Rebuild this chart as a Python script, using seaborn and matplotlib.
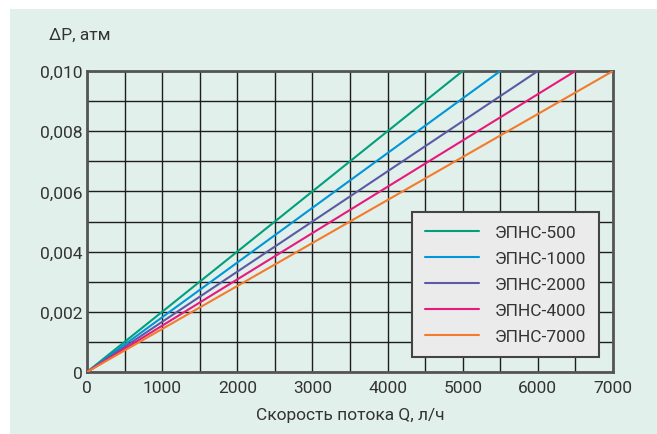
import pandas as pd
import matplotlib.pyplot as plt
import matplotlib.patches as mpatches
from matplotlib.ticker import MultipleLocator, FuncFormatter
import seaborn as sns

# Data: each line is straight from the origin to its end point
models = ['ЭПНС-500', 'ЭПНС-1000', 'ЭПНС-2000', 'ЭПНС-4000', 'ЭПНС-7000']
q_start = [0, 0, 0, 0, 0]
q_end = [5000, 5500, 6000, 6500, 7000]
dp_start = [0, 0, 0, 0, 0]
dp_end = [0.010, 0.010, 0.010, 0.010, 0.010]
colors = ['#00a07c', '#0096d8', '#5a5aa6', '#e8197c', '#f47a2c']

rows = []
for m, q0, q1, p0, p1 in zip(models, q_start, q_end, dp_start, dp_end):
    rows.append({'model': m, 'Q': q0, 'dP': p0})
    rows.append({'model': m, 'Q': q1, 'dP': p1})
df = pd.DataFrame(rows)

sns.set_style('white')
plt.rcParams['font.family'] = ['Roboto', 'DejaVu Sans']
text_color = '#333333'
bg = '#e2f0eb'
fs = 12.5

fig = plt.figure(figsize=(6.57, 4.35), dpi=100)
fig.patch.set_facecolor('white')
fig.patches.append(mpatches.Rectangle((10 / 657, 0), 1, 1 - 10 / 435,
                                      transform=fig.transFigure,
                                      facecolor=bg, edgecolor='none', zorder=-10))
ax = fig.add_axes([87 / 657, 1 - 373 / 435, 526 / 657, 301 / 435])
ax.set_zorder(1)
ax.set_facecolor(bg)

sns.lineplot(data=df, x='Q', y='dP', hue='model', palette=colors,
             linewidth=1.5, ax=ax, zorder=3)

ax.set_xlim(0, 7000)
ax.set_ylim(0, 0.010)
ax.xaxis.set_major_locator(MultipleLocator(1000))
ax.xaxis.set_minor_locator(MultipleLocator(500))
ax.yaxis.set_major_locator(MultipleLocator(0.002))
ax.yaxis.set_minor_locator(MultipleLocator(0.001))
ax.yaxis.set_major_formatter(FuncFormatter(
    lambda v, p: '0' if abs(v) < 1e-12 else f'{v:.3f}'.replace('.', ',')))
ax.xaxis.set_major_formatter(FuncFormatter(lambda v, p: f'{v:.0f}'))
ax.grid(True, which='both', color='#1e1e1e', linewidth=1.0, zorder=1)
ax.set_axisbelow(True)
ax.tick_params(which='both', length=0, labelsize=fs, labelcolor=text_color)
ax.tick_params(axis='x', pad=6)
ax.tick_params(axis='y', pad=3)
for s in ax.spines.values():
    s.set_color('#555555')
    s.set_linewidth(2)

ax.set_xlabel('')
ax.set_ylabel('')
fig.text(80 / 657, 1 - 35 / 435, 'ΔP, атм', ha='center', va='center',
         fontsize=fs, color=text_color)
fig.text(350 / 657, 1 - 416 / 435, 'Скорость потока Q, л/ч', ha='center',
         va='center', fontsize=fs, color=text_color)

leg = ax.legend(loc='lower right', bbox_to_anchor=(0.973, 0.05),
                fontsize=fs, frameon=True, fancybox=False, framealpha=1,
                facecolor='#ebebeb', edgecolor='#444444', handlelength=3.1,
                handletextpad=0.9, labelspacing=0.62, borderpad=0.75,
                borderaxespad=0)
leg.get_frame().set_linewidth(1.5)
for t in leg.get_texts():
    t.set_color(text_color)

fig.savefig('out.png', dpi=100)
